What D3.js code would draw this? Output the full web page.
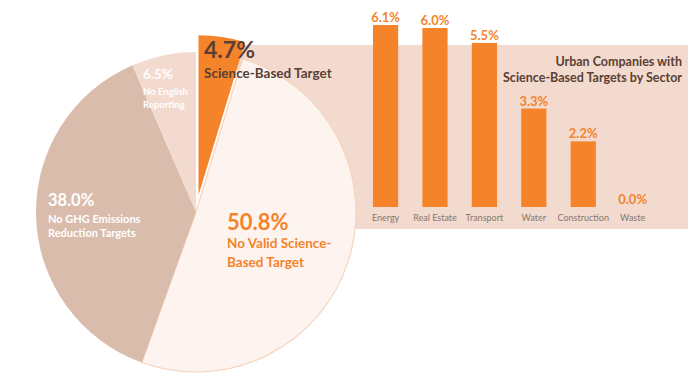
<!DOCTYPE html>
<html>
<head>
<meta charset="utf-8">
<script src="https://cdn.jsdelivr.net/npm/d3@7"></script>
<style>
  body { margin: 0; background: #fff; }
  svg { display: block; font-family: Lato, "Open Sans", sans-serif; }
</style>
</head>
<body>
<div id="chart"></div>
<script>
// pie data, clockwise from 12 o'clock
const pieValues = [4.7, 50.8, 38.0, 6.5];
const pieColors = ['#F5832A', '#FEF4EF', '#D9BCAC', '#F3DACE'];

// bar data
const sectors = ['Energy', 'Real Estate', 'Transport', 'Water', 'Construction', 'Waste'];
const sectorValues = [6.1, 6.0, 5.5, 3.3, 2.2, 0.0];

const width = 700, height = 392;
const orange = '#F5832A';
const brown = '#5A4034';

const svg = d3.select('#chart').append('svg')
    .attr('width', width)
    .attr('height', height);

// Background panel behind the bars
svg.append('rect')
    .attr('x', 237).attr('y', 45)
    .attr('width', 451).attr('height', 184)
    .attr('fill', '#F3DACE');

// Pie
const cx = 196, cy = 212, r = 160;
const pie = d3.pie().sort(null).value(d => d);
const arc = d3.arc().innerRadius(0).outerRadius(r);
const arcs = pie(pieValues);

const g = svg.append('g').attr('transform', `translate(${cx},${cy})`);

g.selectAll('path')
    .data(arcs)
    .enter()
    .append('path')
    .attr('d', arc)
    .attr('fill', (d, i) => pieColors[i])
    .attr('stroke', (d, i) => i === 1 ? '#F7D3BC' : 'none')
    .attr('stroke-width', 1.2)
    .attr('transform', (d, i) => {
        if (i !== 0) return null;
        // pull the science-based slice out
        const a = (d.startAngle + d.endAngle) / 2;
        const off = 17;
        return `translate(${off * Math.sin(a)},${-off * Math.cos(a)})`;
    });

// Pie labels
function label(x, y, lines) {
    const t = svg.append('text').attr('x', x).attr('y', y);
    lines.forEach(l => {
        t.append('tspan')
            .attr('x', x)
            .attr('dy', l.dy)
            .attr('font-size', l.size)
            .attr('font-weight', 700)
            .attr('fill', l.color)
            .text(l.text);
    });
}

label(204, 0, [
    { text: pieValues[0].toFixed(1) + '%', size: 23, dy: 58, color: brown },
    { text: 'Science-Based Target', size: 13.5, dy: 20, color: brown }
]);
label(143, 0, [
    { text: pieValues[3].toFixed(1) + '%', size: 13.5, dy: 79, color: '#fff' },
    { text: 'No English', size: 9.5, dy: 16, color: '#fff' },
    { text: 'Reporting', size: 9.5, dy: 13, color: '#fff' }
]);
label(48, 0, [
    { text: pieValues[2].toFixed(1) + '%', size: 16.5, dy: 206, color: '#fff' },
    { text: 'No GHG Emissions', size: 11, dy: 17, color: '#fff' },
    { text: 'Reduction Targets', size: 11, dy: 14, color: '#fff' }
]);
label(227, 0, [
    { text: pieValues[1].toFixed(1) + '%', size: 22, dy: 230, color: orange },
    { text: 'No Valid Science-', size: 13.5, dy: 18, color: orange },
    { text: 'Based Target', size: 13.5, dy: 19, color: orange }
]);

// Bars
const x = d3.scaleBand()
    .domain(sectors)
    .range([360.6, 657.6])
    .paddingInner(0.49)
    .paddingOuter(0.25);

const y = d3.scaleLinear()
    .domain([0, 6.1])
    .range([207, 25]);

const bars = svg.append('g');

bars.selectAll('rect')
    .data(sectorValues)
    .enter()
    .append('rect')
    .attr('x', (d, i) => x(sectors[i]))
    .attr('y', d => y(d))
    .attr('width', x.bandwidth())
    .attr('height', d => y(0) - y(d))
    .attr('fill', orange);

bars.selectAll('.val')
    .data(sectorValues)
    .enter()
    .append('text')
    .attr('class', 'val')
    .attr('x', (d, i) => x(sectors[i]) + x.bandwidth() / 2)
    .attr('y', d => y(d) - 3)
    .attr('text-anchor', 'middle')
    .attr('font-size', 13)
    .attr('font-weight', 700)
    .attr('fill', orange)
    .text(d => d.toFixed(1) + '%');

// Category axis, no line or ticks
const xAxis = svg.append('g')
    .attr('transform', `translate(0,${y(0)})`)
    .call(d3.axisBottom(x).tickSize(0).tickPadding(8));
xAxis.select('.domain').remove();
xAxis.selectAll('text')
    .attr('font-family', 'Lato, sans-serif')
    .attr('font-size', 9)
    .attr('fill', '#857770');

// Title
svg.append('text')
    .attr('x', 682).attr('y', 66)
    .attr('text-anchor', 'end')
    .attr('font-size', 12.5)
    .attr('font-weight', 700)
    .attr('fill', brown)
    .selectAll('tspan')
    .data(['Urban Companies with', 'Science-Based Targets by Sector'])
    .enter()
    .append('tspan')
    .attr('x', 682)
    .attr('dy', (d, i) => i ? 15.5 : 0)
    .text(d => d);
</script>
</body>
</html>
